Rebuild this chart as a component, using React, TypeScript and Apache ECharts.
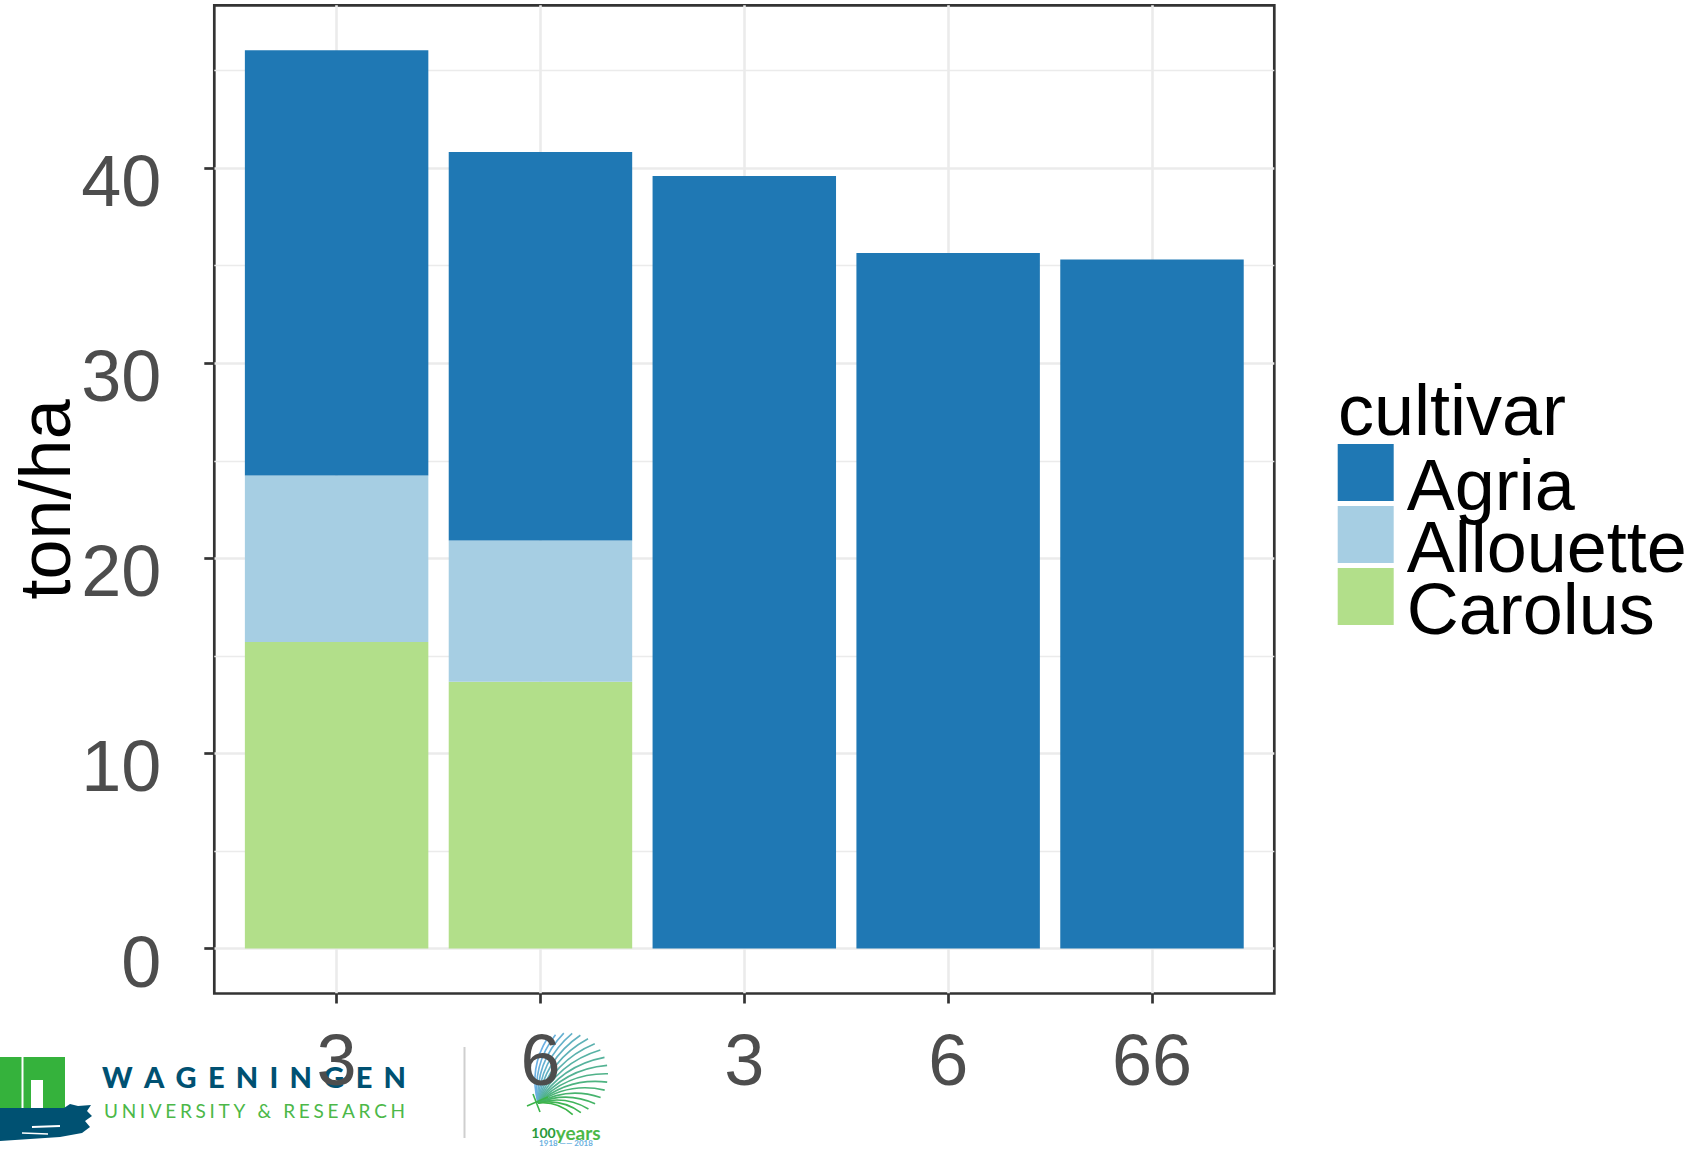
import { useEffect, useRef } from 'react';
import * as echarts from 'echarts';

// ---- data ----
const categories = ['3', '6', '3', '6', '66'];
const cultivars = ['Agria', 'Allouette', 'Carolus'];
const agria = [21.8, 19.91, 39.6, 35.65, 35.32];
const allouette = [8.53, 7.24, 0, 0, 0];
const carolus = [15.71, 13.68, 0, 0, 0];
const yTicks = [0, 10, 20, 30, 40];
const yMinorTicks = [5, 15, 25, 35, 45];

const cultivarColors: Record<string, string> = {
  Agria: '#1f78b4',
  Allouette: '#a6cee3',
  Carolus: '#b2df8a',
};
const cultivarValues: Record<string, number[]> = {
  Agria: agria,
  Allouette: allouette,
  Carolus: carolus,
};
const stackOrder = ['Carolus', 'Allouette', 'Agria'];

const FONT = '"Liberation Sans", Arial, Helvetica, sans-serif';
const LOGO_FONT = 'Lato, "Open Sans", sans-serif';
const GREEN = '#35b23c';
const BLUE = '#005172';

function spacedLetters(
  text: string,
  x0: number,
  x1: number,
  yCenter: number,
  fontSize: number,
  fontWeight: string,
  color: string,
) {
  const chars = Array.from(text);
  const canvas = document.createElement('canvas');
  const ctx = canvas.getContext('2d')!;
  ctx.font = `${fontWeight} ${fontSize}px ${LOGO_FONT}`;
  const widths = chars.map((c) => ctx.measureText(c).width);
  const sum = widths.reduce((a, b) => a + b, 0);
  const gap = (x1 - x0 - sum) / (chars.length - 1);
  let x = x0;
  return chars.map((c, i) => {
    const el = {
      type: 'text',
      x,
      y: yCenter,
      z: -1,
      silent: true,
      style: {
        text: c,
        fontSize,
        fontWeight,
        fontFamily: LOGO_FONT,
        fill: color,
        align: 'left',
        verticalAlign: 'middle',
      },
    };
    x += widths[i] + gap;
    return el;
  });
}

function buildLogo() {
  const els: any[] = [];
  const base = { z: -1, silent: true };
  els.push({ ...base, type: 'rect', shape: { x: 0, y: 1057, width: 21.5, height: 52 }, style: { fill: GREEN } });
  els.push({
    ...base, type: 'polygon',
    shape: { points: [[23.5, 1057], [65, 1057], [65, 1109], [43, 1109], [43, 1080], [31, 1080], [31, 1109], [23.5, 1109]] },
    style: { fill: GREEN },
  });
  els.push({
    ...base, type: 'polygon',
    shape: {
      points: [[0, 1108], [64, 1108], [70, 1104], [78, 1106], [91, 1105], [87, 1111], [92, 1116], [85, 1121], [90, 1127], [82, 1133], [60, 1137], [30, 1139], [0, 1141]],
    },
    style: { fill: BLUE },
  });
  els.push({ ...base, type: 'line', shape: { x1: 32, y1: 1127, x2: 60, y2: 1126 }, style: { stroke: '#fff', lineWidth: 2 } });
  els.push({ ...base, type: 'line', shape: { x1: 22, y1: 1133, x2: 48, y2: 1134 }, style: { stroke: '#fff', lineWidth: 1.5 } });
  els.push(...spacedLetters('WAGENINGEN', 102, 406, 1076, 29, '900', BLUE));
  els.push(...spacedLetters('UNIVERSITY & RESEARCH', 104, 405, 1110, 19, 'normal', '#4cb848'));
  els.push({ ...base, type: 'line', shape: { x1: 464.5, y1: 1047, x2: 464.5, y2: 1138 }, style: { stroke: '#cfcfcf', lineWidth: 2 } });

  // emblem (fan of leaf ribs)
  const C = [567, 1074];
  const R = 41;
  const O = [538, 1103];
  const n = 18;
  for (let k = 0; k < n; k++) {
    const t = k / (n - 1);
    const ang = ((118 - t * 200) * Math.PI) / 180;
    const ex = C[0] + R * Math.cos(ang);
    const ey = C[1] - R * Math.sin(ang);
    const mx = (O[0] + ex) / 2;
    const my = (O[1] + ey) / 2;
    const dx = ex - O[0];
    const dy = ey - O[1];
    const cx = mx + dy * 0.22;
    const cy = my - dx * 0.22;
    const r = Math.round(108 + (60 - 108) * t);
    const g = Math.round(176 + (180 - 176) * t);
    const b = Math.round(228 + (74 - 228) * t);
    els.push({
      ...base, type: 'bezierCurve',
      shape: { x1: O[0], y1: O[1], x2: ex, y2: ey, cpx1: cx, cpy1: cy },
      style: { stroke: `rgb(${r},${g},${b})`, lineWidth: 1.6, fill: null },
    });
  }
  els.push({ ...base, type: 'line', shape: { x1: 527, y1: 1106, x2: 548, y2: 1097 }, style: { stroke: '#3cb44a', lineWidth: 1.6 } });
  els.push({ ...base, type: 'line', shape: { x1: 533, y1: 1094, x2: 540, y2: 1112 }, style: { stroke: '#3cb44a', lineWidth: 1.6 } });
  els.push({
    ...base, type: 'text', x: 566, y: 1132,
    style: {
      text: '{a|100}{b|years}',
      align: 'center',
      verticalAlign: 'middle',
      rich: {
        a: { fontSize: 14, fontWeight: 'bold', fill: '#2a9a3a', fontFamily: LOGO_FONT },
        b: { fontSize: 19, fontWeight: 'bold', fill: '#4cb848', fontFamily: LOGO_FONT },
      },
    },
  });
  els.push({
    ...base, type: 'text', x: 566, y: 1143,
    style: { text: '1918 —— 2018', fontSize: 8, fontWeight: 'bold', fill: '#6ab0de', fontFamily: LOGO_FONT, align: 'center', verticalAlign: 'middle' },
  });
  return els;
}

export default function App() {
  const ref = useRef<HTMLDivElement>(null);

  useEffect(() => {
    document.body.style.margin = '0';
    if (!ref.current) return;
    const chart = echarts.init(ref.current, undefined, { renderer: 'svg' });

    const xValues = categories.map((_, i) => i + 1);
    const totals = categories.map((_, i) => agria[i] + allouette[i] + carolus[i]);
    const maxTotal = Math.max(...totals);
    const yMin = -maxTotal * 0.05;
    const yMax = maxTotal * 1.05;

    // panel geometry (ggplot-like discrete expansion of 0.6 units each side)
    const panelLeft = 214.3;
    const panelTop = 5.3;
    const panelWidth = 1060;
    const panelHeight = 988.2;
    const expand = 0.6;
    const band = panelWidth / (categories.length - 1 + 2 * expand);
    const barsLeft = panelLeft + (expand - 0.5) * band;
    const barsWidth = band * categories.length;

    const tickStyle = { color: '#333333', width: 2.7 };

    const option: any = {
      animation: false,
      textStyle: { fontFamily: FONT },
      grid: [
        {
          left: panelLeft,
          top: panelTop,
          width: panelWidth,
          height: panelHeight,
          show: true,
          borderColor: '#333333',
          borderWidth: 2.7,
          backgroundColor: 'transparent',
          containLabel: false,
          outerBoundsMode: 'none',
        },
        {
          left: barsLeft,
          top: panelTop,
          width: barsWidth,
          height: panelHeight,
          show: false,
          containLabel: false,
          outerBoundsMode: 'none',
        },
      ],
      xAxis: [
        {
          // panel axis: vertical grid lines at category centres
          type: 'value',
          gridIndex: 0,
          min: 1 - expand,
          max: categories.length + expand,
          axisLine: { show: false, onZero: false },
          axisTick: { show: false, customValues: xValues },
          axisLabel: { show: false, customValues: xValues },
          splitLine: { show: true, lineStyle: { color: '#ebebeb', width: 2.6 } },
        },
        {
          type: 'category',
          gridIndex: 1,
          data: categories,
          axisLine: { show: false, onZero: false },
          axisTick: { show: true, alignWithLabel: true, length: 10, lineStyle: tickStyle },
          axisLabel: {
            fontSize: 72,
            color: '#4d4d4d',
            margin: 30,
            lineHeight: 72,
            fontFamily: FONT,
          },
          splitLine: { show: false },
        },
      ],
      yAxis: [
        {
          type: 'value',
          gridIndex: 0,
          min: yMin,
          max: yMax,
          name: 'ton/ha',
          nameLocation: 'middle',
          nameGap: 133,
          nameMoveOverlap: false,
          nameTextStyle: { fontSize: 72, color: '#000000', lineHeight: 72, fontFamily: FONT },
          axisLine: { show: false, onZero: false },
          axisTick: { show: true, customValues: yTicks, length: 10, lineStyle: tickStyle },
          axisLabel: {
            customValues: yTicks,
            fontSize: 72,
            color: '#4d4d4d',
            margin: 53,
            lineHeight: 26,
            verticalAlign: 'top',
            fontFamily: FONT,
          },
          splitLine: { show: true, lineStyle: { color: '#ebebeb', width: 2.6 } },
        },
        {
          type: 'value',
          gridIndex: 0,
          min: yMin,
          max: yMax,
          position: 'left',
          axisLine: { show: false, onZero: false },
          axisTick: { show: false, customValues: yMinorTicks },
          axisLabel: { show: false, customValues: yMinorTicks },
          splitLine: { show: true, lineStyle: { color: '#ebebeb', width: 1.4 } },
        },
        {
          type: 'value',
          gridIndex: 1,
          min: yMin,
          max: yMax,
          show: false,
          splitLine: { show: false },
        },
      ],
      legend: {
        orient: 'vertical',
        left: 1337.7,
        top: 423.4,
        padding: 0,
        itemWidth: 56,
        itemHeight: 57,
        itemGap: -36,
        icon: 'rect',
        selectedMode: false,
        data: cultivars,
        itemStyle: { borderWidth: 0 },
        formatter: '{t|{name}}',
        textStyle: {
          fontSize: 72,
          color: '#000000',
          fontFamily: FONT,
          rich: {
            t: {
              fontSize: 72,
              color: '#000000',
              fontFamily: FONT,
              lineHeight: 31,
              padding: [26, 0, 0, 8],
            },
          },
        },
      },
      graphic: [
        {
          type: 'text',
          x: 1338,
          y: 410,
          style: {
            text: 'cultivar',
            fontSize: 72,
            fontFamily: FONT,
            fill: '#000000',
            align: 'left',
            verticalAlign: 'middle',
          },
        },
        ...buildLogo(),
      ],
      series: stackOrder.map((name) => ({
        name,
        type: 'bar',
        stack: 'total',
        xAxisIndex: 1,
        yAxisIndex: 2,
        barWidth: '90%',
        data: cultivarValues[name],
        itemStyle: { color: cultivarColors[name] },
        emphasis: { disabled: true },
      })),
    };

    chart.setOption(option);
    return () => chart.dispose();
  }, []);

  return <div ref={ref} style={{ width: 1702, height: 1149 }} />;
}
